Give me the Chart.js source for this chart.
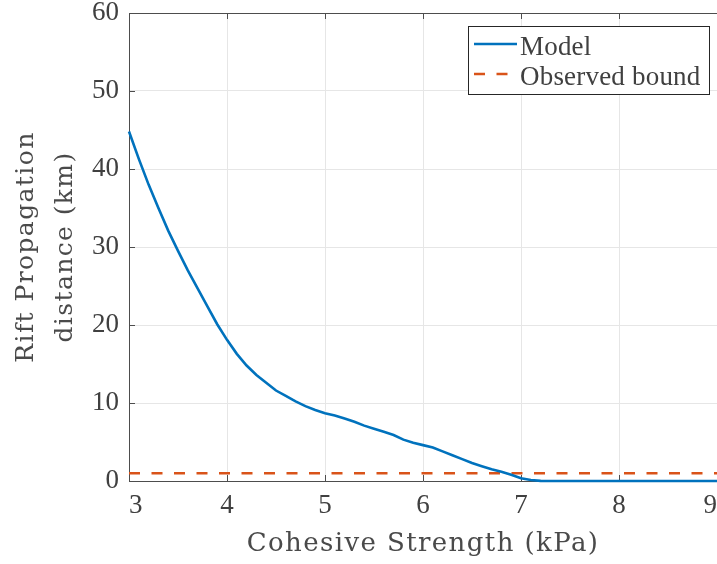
<!DOCTYPE html>
<html>
<head>
<meta charset="utf-8">
<script src="https://cdn.jsdelivr.net/npm/chart.js@4"></script>
<style>
  body { margin: 0; background: #fff; }
  #box { width: 717px; height: 564px; }
</style>
</head>
<body>
<div id="box"><canvas id="myChart" width="717" height="564"></canvas></div>
<script>
// cohesive strength (kPa) vs rift propagation distance (km)
var modelX = [3.0, 3.1, 3.2, 3.3, 3.4, 3.5, 3.6, 3.7, 3.8, 3.9,
              4.0, 4.1, 4.2, 4.3, 4.4, 4.5, 4.6, 4.7, 4.8, 4.9,
              5.0, 5.1, 5.2, 5.3, 5.4, 5.5, 5.6, 5.7, 5.8, 5.9,
              6.0, 6.1, 6.2, 6.3, 6.4, 6.5, 6.6, 6.7, 6.8, 6.9,
              7.0, 7.1, 7.2, 7.3, 9.0]
var modelY = [44.8, 41.3, 38.0, 35.0, 32.1, 29.5, 27.0, 24.7, 22.4, 20.1,
              18.1, 16.3, 14.8, 13.6, 12.6, 11.6, 10.9, 10.2, 9.6, 9.1,
              8.7, 8.4, 8.0, 7.6, 7.1, 6.7, 6.3, 5.9, 5.3, 4.9,
              4.6, 4.3, 3.8, 3.3, 2.8, 2.3, 1.9, 1.5, 1.2, 0.8,
              0.35, 0.12, 0.02, 0, 0]
var boundX = [3, 9]
var boundY = [1, 1]
var xTicks = [3, 4, 5, 6, 7, 8, 9]
var yTicks = [0, 10, 20, 30, 40, 50, 60]

var textColor = '#404040'
var axisColor = '#4d4d4d'
var serif = '"Liberation Serif", "DejaVu Serif", serif'
var wideSerif = '"DejaVu Serif", serif'

function toPoints(xs, ys){
    var pts = []
    for(var i=0;i<xs.length;i++){
        pts.push({x: xs[i], y: ys[i]})
    }
    return pts
}

// the LaTeX font of the original is wide: spread the axis titles a little.
// titles are drawn before the datasets, tick labels after (ticks z = 1)
var spacing = {
    id: 'spacing',
    beforeDraw: function(chart){ chart.ctx.letterSpacing = '1.4px' },
    afterDatasetsDraw: function(chart){ chart.ctx.letterSpacing = '0px' }
}

// top frame line and the small inward ticks
var frame = {
    id: 'frame',
    beforeDatasetsDraw: function(chart){
        var ctx = chart.ctx
        var a = chart.chartArea
        var x = chart.scales.x, y = chart.scales.y
        ctx.save()
        ctx.strokeStyle = axisColor
        ctx.lineWidth = 1
        ctx.beginPath()
        ctx.moveTo(a.left, a.top + 0.5)
        ctx.lineTo(a.right, a.top + 0.5)
        x.ticks.forEach(function(t){
            var px = Math.round(x.getPixelForValue(t.value)) + 0.5
            ctx.moveTo(px, a.bottom); ctx.lineTo(px, a.bottom - 6)
            ctx.moveTo(px, a.top); ctx.lineTo(px, a.top + 6)
        })
        y.ticks.forEach(function(t){
            var py = Math.round(y.getPixelForValue(t.value)) + 0.5
            ctx.moveTo(a.left, py); ctx.lineTo(a.left + 6, py)
        })
        ctx.stroke()
        ctx.restore()
    }
}

// boxed legend in the top right corner
var boxLegend = {
    id: 'boxLegend',
    afterDraw: function(chart){
        var ctx = chart.ctx
        var a = chart.chartArea
        var w = 241, h = 68
        var left = a.right - 8 - w, top = a.top + 13
        ctx.save()
        ctx.letterSpacing = '0.2px'
        ctx.fillStyle = '#fff'
        ctx.fillRect(left, top, w, h)
        ctx.strokeStyle = '#262626'
        ctx.lineWidth = 1
        ctx.strokeRect(left + 0.5, top + 0.5, w, h)
        ctx.font = '27px ' + serif
        ctx.textBaseline = 'alphabetic'
        ctx.fillStyle = textColor
        chart.data.datasets.forEach(function(ds, i){
            var cy = top + 18 + i * 30
            ctx.strokeStyle = ds.borderColor
            ctx.lineWidth = ds.borderWidth
            ctx.setLineDash(ds.borderDash || [])
            ctx.beginPath()
            ctx.moveTo(left + 6, cy)
            ctx.lineTo(left + 49, cy)
            ctx.stroke()
            ctx.setLineDash([])
            ctx.fillText(ds.label, left + 52, cy + 11)
        })
        ctx.restore()
    }
}

var ctx = document.getElementById('myChart').getContext('2d')
var myChart = new Chart(ctx, {
    type: 'line',
    data: {
        datasets: [{
            label: 'Model',
            data: toPoints(modelX, modelY),
            borderColor: '#0072BD',
            borderWidth: 2.6,
            pointRadius: 0,
            tension: 0,
            clip: false
        }, {
            label: 'Observed bound',
            data: toPoints(boundX, boundY),
            borderColor: '#D95319',
            borderWidth: 2.6,
            borderDash: [11, 11.5],
            pointRadius: 0,
            clip: false
        }]
    },
    options: {
        responsive: false,
        animation: false,
        devicePixelRatio: 1,
        layout: { padding: { top: 13, right: 0, left: 0, bottom: 0 } },
        plugins: {
            legend: { display: false },
            tooltip: { enabled: false }
        },
        scales: {
            x: {
                type: 'linear',
                min: 3,
                max: 9,
                afterBuildTicks: function(s){ s.ticks = xTicks.map(function(v){ return {value: v} }) },
                afterFit: function(s){ s.height = 83; s.paddingLeft = 0; s.paddingRight = 0 },
                grid: { color: '#e6e6e6', drawTicks: false },
                border: { color: axisColor },
                ticks: {
                    z: 1,
                    align: 'inner',
                    padding: 9,
                    color: textColor,
                    font: { family: serif, size: 27 }
                },
                title: {
                    display: true,
                    text: 'Cohesive Strength (kPa)',
                    color: '#4a4a4a',
                    font: { family: wideSerif, size: 26 },
                    padding: { top: 2, bottom: 4 }
                }
            },
            y: {
                min: 0,
                max: 60,
                afterBuildTicks: function(s){ s.ticks = yTicks.map(function(v){ return {value: v} }) },
                afterFit: function(s){ s.width = 129; s.paddingTop = 0; s.paddingBottom = 0 },
                grid: { color: '#e6e6e6', drawTicks: false },
                border: { color: axisColor },
                ticks: {
                    z: 1,
                    padding: 10,
                    color: textColor,
                    font: { family: serif, size: 27 }
                },
                title: {
                    display: true,
                    text: ['Rift Propagation', 'distance (km)'],
                    color: '#4a4a4a',
                    font: { family: wideSerif, size: 25, lineHeight: 1.55 },
                    padding: { top: 7, bottom: 0 }
                }
            }
        }
    },
    plugins: [spacing, frame, boxLegend]
})
</script>
</body>
</html>
